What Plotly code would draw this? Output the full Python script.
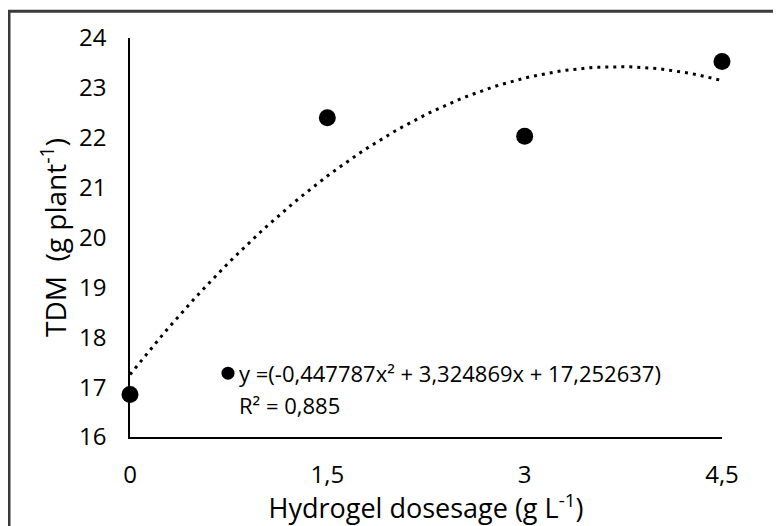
import plotly.graph_objects as go

# observed means
doses = [0, 1.5, 3, 4.5]
tdm = [16.85, 22.40, 22.03, 23.53]

# quadratic trendline as printed on the chart
coef = [-0.447787, 3.324869, 17.252637]
r2 = "0,885"

fit_x = [i * 4.5 / 90 for i in range(91)]
fit_y = [coef[0] * x ** 2 + coef[1] * x + coef[2] for x in fit_x]

x_ticks = [0, 1.5, 3, 4.5]
x_labels = ["0", "1,5", "3", "4,5"]
y_ticks = list(range(16, 25))

FONT = "Open Sans"

fig = go.Figure()

fig.add_trace(go.Scatter(
    x=fit_x, y=fit_y, mode="lines",
    line=dict(color="black", width=3, dash="3px,5px"),
    hoverinfo="skip", cliponaxis=False,
))

fig.add_trace(go.Scatter(
    x=doses, y=tdm, mode="markers",
    marker=dict(color="black", size=17),
    cliponaxis=False,
))

# legend-style label for the trendline
fig.add_trace(go.Scatter(
    x=[0.745], y=[17.28], mode="markers",
    marker=dict(color="black", size=13),
    hoverinfo="skip", cliponaxis=False,
))
fig.add_annotation(
    x=0.815, y=17.28, xanchor="left", yanchor="middle", showarrow=False,
    text="y =(-0,447787x² + 3,324869x + 17,252637)",
    font=dict(family=FONT, size=22, color="black"),
)
fig.add_annotation(
    x=0.815, y=16.64, xanchor="left", yanchor="middle", showarrow=False,
    text="R² = " + r2,
    font=dict(family=FONT, size=22, color="black"),
)

# outer frame (page body adds an 8px offset, so the figure is drawn smaller)
fig.add_shape(
    type="rect", xref="paper", yref="paper",
    x0=-0.2044, x1=1.3, y0=-0.4, y1=1.067,
    line=dict(color="#3a3a3a", width=3),
)

fig.update_layout(
    width=773, height=518,
    margin=dict(l=122, r=59, t=29, b=85),
    paper_bgcolor="white", plot_bgcolor="white",
    showlegend=False,
    font=dict(family=FONT, size=24, color="black"),
)
fig.update_xaxes(
    range=[0, 4.5], tickvals=x_ticks, ticktext=x_labels,
    showgrid=False, zeroline=False, showline=True,
    linecolor="black", linewidth=1.5,
    ticks="outside", ticklen=15, tickcolor="rgba(0,0,0,0)",
    title=dict(text="Hydrogel dosesage (g L<sup>-1</sup>)", standoff=6,
               font=dict(family=FONT, size=27, color="black")),
)
fig.update_yaxes(
    range=[16, 24], tickvals=y_ticks,
    showgrid=False, zeroline=False, showline=True,
    linecolor="black", linewidth=1.5,
    ticks="outside", ticklen=17, tickcolor="rgba(0,0,0,0)",
    title=dict(text="TDM  (g plant<sup>-1</sup>)", standoff=4,
               font=dict(family=FONT, size=28, color="black")),
)

fig.write_html("out.html")
